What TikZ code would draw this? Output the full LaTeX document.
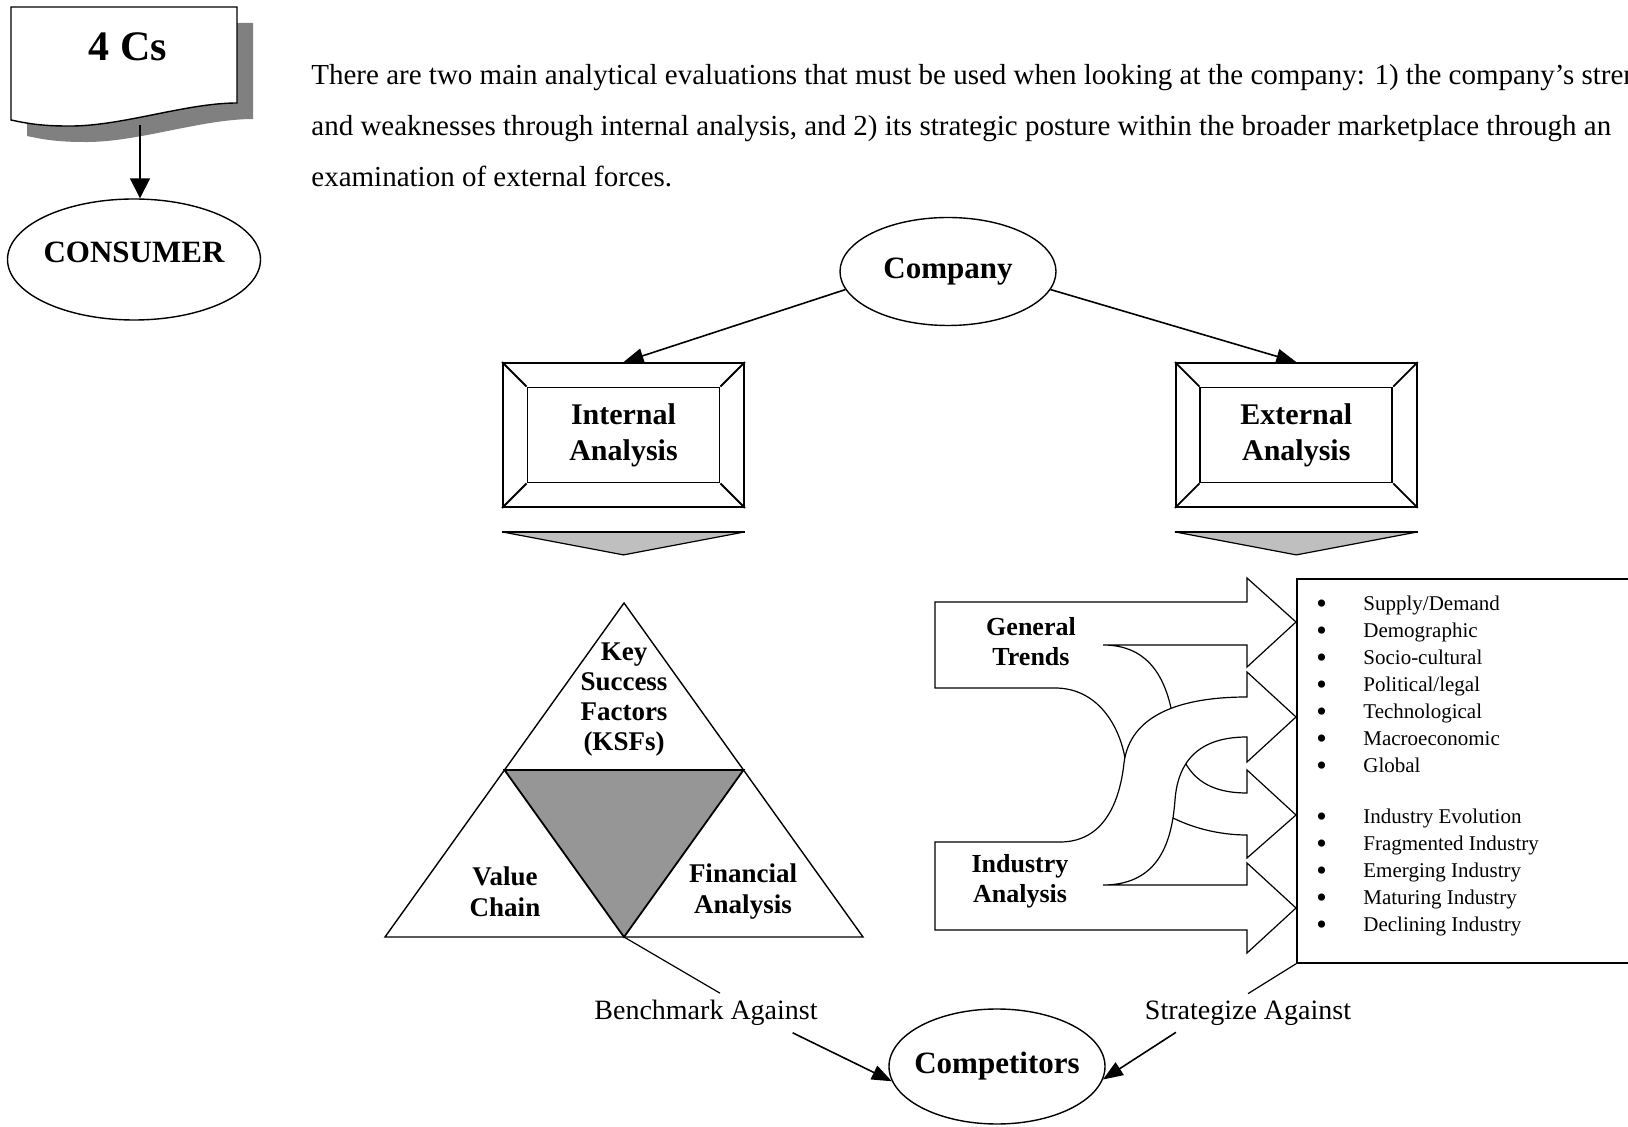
\documentclass[tikz,border=0pt]{standalone}
\usepackage{fontspec}
\setmainfont{Liberation Serif}
\usetikzlibrary{calc, arrows.meta, positioning, shapes.geometric}
\newcommand{\bul}{\makebox[23.5pt][l]{\raisebox{-1.3pt}{\fontsize{15}{15}\selectfont\textbullet}}}

\begin{document}
\begin{tikzpicture} [x=0.5pt, y=-0.5pt,
		% define styles
		ellipsenodestyle/.style={
			% The shape:
			ellipse,
			inner sep=0pt,
			% The border:
			draw=black,
			line width=0.7pt,
			% The filling:
			fill=white
		},
		ellipsetextstyle/.style={
			% Font
			font=\bfseries\fontsize{15.5}{18}\selectfont
		},
		bevelnodestyle/.style={
			% The shape:
			rectangle,
			% The size:
			minimum width=120.5pt,
			minimum height=72pt,
			% The border:
			draw=black,
			line width=0.9pt
		},
		bevelinnerstyle/.style={
			rectangle,
			minimum width=96pt,
			minimum height=47.5pt,
			draw=black,
			line width=0.9pt,
			align=center,
			% Font
			font=\bfseries\fontsize{15}{18}\selectfont
		},
		labelnodestyle/.style={
			align=center,
			inner sep=0pt,
			% Font
			font=\bfseries\fontsize{13.5}{15.5}\selectfont
		},
		textnodestyle/.style={
			inner sep=0pt,
			font=\fontsize{14.5}{25.5}\selectfont
		},
		plaintextstyle/.style={
			font=\fontsize{14}{17}\selectfont
		},
		listnodestyle/.style={
			anchor=west,
			inner sep=0pt,
			text height=1.5ex,
			text depth=.25ex,
			font=\fontsize{10.5}{13.5}\selectfont
		},
		listboxstyle/.style={
			rectangle,
			minimum width=185pt,
			minimum height=192pt,
			draw=black,
			line width=0.9pt
		},
		blockarrowstyle/.style={
			draw=black,
			line width=0.6pt,
			fill=white,
			line join=miter
		},
		chevronstyle/.style={
			draw=black,
			line width=0.6pt,
			% light grey wedge
			fill=black!25
		},
		arrow/.style={
			-{Triangle[length=10pt, width=7.5pt]},
			% Thickness
			line width=0.8pt,
			% Color
			black
		},
		line/.style={
			-,
			line width=0.6pt,
			black
		}]
		% end of style definition

		\useasboundingbox (0,0) rectangle (1628,1127);
		\clip (0,0) rectangle (1628,1127);

		% 4 Cs sheet with its shadow
		\fill [black!50, shift={(16,16)}] (11,7) -- (237,7) -- (237,103) .. controls (185,103) and (120,127) .. (67,126) .. controls (40,126) and (25,123) .. (11,120) -- cycle;
		\draw [line width=0.7pt, fill=white] (11,7) -- (237,7) -- (237,103) .. controls (185,103) and (120,127) .. (67,126) .. controls (40,126) and (25,123) .. (11,120) -- cycle;

		% draw nodes
		\node (iFourCs) [font=\bfseries\fontsize{21}{24}\selectfont] at (128,47) {4 Cs};
		\coordinate (iCsWave) at (140,125);
		\node (iConsumer) [ellipsenodestyle, minimum width=126.5pt, minimum height=60.5pt,
			label={[ellipsetextstyle, yshift=3.5pt]center:CONSUMER}] at (134,259.5) {};

		\node (iIntro1) [textnodestyle, anchor=base west] at (311,85) {There are two main analytical evaluations that must be used when looking at the company: 1) the company's strengths};
		\node (iIntro2) [textnodestyle, below=25.5pt of iIntro1.base west, anchor=base west] {and weaknesses through internal analysis, and 2) its strategic posture within the broader marketplace through an};
		\node (iIntro3) [textnodestyle, below=25.5pt of iIntro2.base west, anchor=base west] {examination of external forces.};

		\node (iCompany) [ellipsenodestyle, minimum width=108pt, minimum height=54pt,
			label={[ellipsetextstyle]center:Company}] at (948,271.5) {};

		\node (iInternal) [bevelnodestyle] at (623.5,435) {};
		\node (iInternalText) [bevelinnerstyle] at (iInternal) {Internal\\Analysis};
		\node (iExternal) [bevelnodestyle, right=215pt of iInternal] {};
		\node (iExternalText) [bevelinnerstyle] at (iExternal) {External\\Analysis};

		% bevel corners
		\draw [line width=0.9pt] (iInternal.north west) -- (iInternalText.north west);
		\draw [line width=0.9pt] (iInternal.north east) -- (iInternalText.north east);
		\draw [line width=0.9pt] (iInternal.south west) -- (iInternalText.south west);
		\draw [line width=0.9pt] (iInternal.south east) -- (iInternalText.south east);
		\draw [line width=0.9pt] (iExternal.north west) -- (iExternalText.north west);
		\draw [line width=0.9pt] (iExternal.north east) -- (iExternalText.north east);
		\draw [line width=0.9pt] (iExternal.south west) -- (iExternalText.south west);
		\draw [line width=0.9pt] (iExternal.south east) -- (iExternalText.south east);

		% wedges under the boxes
		\draw [chevronstyle] ([yshift=-12pt]iInternal.south west) -- ([yshift=-12pt]iInternal.south east) -- ([yshift=-23.5pt]iInternal.south) -- cycle;
		\draw [line width=1.2pt] ([yshift=-12pt]iInternal.south west) -- ([yshift=-12pt]iInternal.south east);
		\draw [chevronstyle] ([yshift=-12pt]iExternal.south west) -- ([yshift=-12pt]iExternal.south east) -- ([yshift=-23.5pt]iExternal.south) -- cycle;
		\draw [line width=1.2pt] ([yshift=-12pt]iExternal.south west) -- ([yshift=-12pt]iExternal.south east);

		% triangle of the internal analysis
		\coordinate (iTop) at (624,603);
		\coordinate (iLeft) at (385,937);
		\coordinate (iRight) at (863,937);
		\coordinate (iBottom) at ($(iLeft)!0.5!(iRight)$);
		\draw [line width=0.7pt] (iTop) -- (iLeft) -- (iRight) -- cycle;
		\draw [line width=0.9pt, fill=black!41] ($(iTop)!0.5!(iLeft)$) -- ($(iTop)!0.5!(iRight)$) -- (iBottom) -- cycle;

		\node (iKSF) [labelnodestyle, font=\bfseries\fontsize{13.5}{15}\selectfont] at (624,700) {Key\\Success\\Factors\\(KSFs)};
		\node (iValueChain) [labelnodestyle] at (505,892) {Value\\Chain};
		\node (iFinancial) [labelnodestyle] at (743,892) {Financial\\Analysis};

		% block arrows of the external analysis
		\draw [blockarrowstyle] (935,602) -- (1247,602) -- (1247,578) -- (1296,622) -- (1247,667) -- (1247,645) -- (1103,645)
			.. controls (1150,645) and (1168,680) .. (1174,725) .. controls (1180,770) and (1200,793) .. (1247,793)
			-- (1247,770) -- (1296,815) -- (1247,858) -- (1247,835)
			.. controls (1190,835) and (1132,805) .. (1126,765) .. controls (1122,730) and (1100,688) .. (1055,688)
			-- (935,688) -- cycle;
		\draw [blockarrowstyle] (935,842) -- (1060,842) .. controls (1105,842) and (1120,800) .. (1124,763) .. controls (1130,715) and (1180,697) .. (1247,697)
			-- (1247,672) -- (1296,717) -- (1247,762) -- (1247,737)
			.. controls (1200,737) and (1178,760) .. (1175,800) .. controls (1172,840) and (1160,885) .. (1103,885)
			-- (1247,885) -- (1247,863) -- (1296,908) -- (1247,953) -- (1247,930) -- (935,930) -- cycle;

		\node (iGeneral) [labelnodestyle, font=\bfseries\fontsize{13}{15}\selectfont] at (1031,642) {General\\Trends};
		\node (iIndustry) [labelnodestyle, font=\bfseries\fontsize{13}{15}\selectfont] at (1020,881) {Industry\\Analysis};

		\node (iList) [listboxstyle, anchor=north west] at (1296,578) {};
		\node (iSupply) [listnodestyle] at (1316,605) {\bul Supply/Demand};
		\node (iDemographic) [listnodestyle] at (1316,632) {\bul Demographic};
		\node (iSocio) [listnodestyle] at (1316,659) {\bul Socio-cultural};
		\node (iPolitical) [listnodestyle] at (1316,686) {\bul Political/legal};
		\node (iTechnological) [listnodestyle] at (1316,713) {\bul Technological};
		\node (iMacro) [listnodestyle] at (1316,740) {\bul Macroeconomic};
		\node (iGlobal) [listnodestyle] at (1316,767) {\bul Global};
		\node (iEvolution) [listnodestyle] at (1316,818) {\bul Industry Evolution};
		\node (iFragmented) [listnodestyle] at (1316,845) {\bul Fragmented Industry};
		\node (iEmerging) [listnodestyle] at (1316,872) {\bul Emerging Industry};
		\node (iMaturing) [listnodestyle] at (1316,899) {\bul Maturing Industry};
		\node (iDeclining) [listnodestyle] at (1316,926) {\bul Declining Industry};

		\node (iBenchmark) [plaintextstyle] at (706,1013) {Benchmark Against};
		\node (iStrategize) [plaintextstyle] at (1248,1013) {Strategize Against};
		\node (iCompetitors) [ellipsenodestyle, minimum width=108pt, minimum height=57.5pt,
			label={[ellipsetextstyle]center:Competitors}] at (997,1066.5) {};

		% connect nodes
		\draw [arrow, -{Triangle[length=10pt, width=10pt]}] (iCsWave) -- (iCsWave |- iConsumer.north);
		\draw [arrow] (iCompany.190) -- (iInternal.north);
		\draw [arrow] (iCompany.-10) -- (iExternal.north);

		\draw [line] (iBottom) -- ([xshift=7pt]iBenchmark.north);
		\draw [line] (iList.south west) -- (iStrategize.north);
		\draw [arrow] ([xshift=-16pt]iBenchmark.south east) -- (iCompetitors.188);
		\draw [arrow] ([xshift=19pt]iStrategize.south west) -- (iCompetitors.353);
	\end{tikzpicture}
\end{document}
